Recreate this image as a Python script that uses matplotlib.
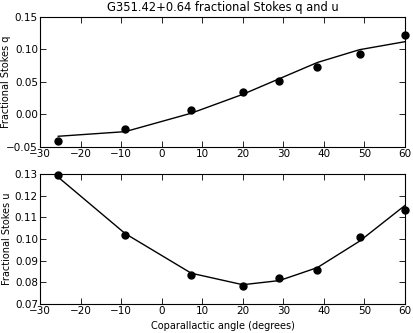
import matplotlib
matplotlib.use("Agg")
import matplotlib.pyplot as plt

angle = [-25.5, -9.0, 7.3, 20.0, 29.0, 38.4, 48.8, 60.0]
q_obs = [-0.041, -0.022, 0.0065, 0.0346, 0.052, 0.0726, 0.0926, 0.123]
q_model = [-0.0335, -0.0264, 0.002, 0.031, 0.055, 0.080, 0.0997, 0.112]
u_obs = [0.1297, 0.1017, 0.0836, 0.0781, 0.0822, 0.0856, 0.1009, 0.1133]
u_model = [0.1285, 0.1025, 0.0842, 0.0789, 0.0808, 0.0868, 0.0990, 0.1155]

plt.rcParams['font.family'] = ['DejaVu Sans']
fig = plt.figure(figsize=(4.13, 3.33), dpi=100)
ax1 = fig.add_axes([0.0969, 0.5586, 0.8837, 0.3904])
ax2 = fig.add_axes([0.0969, 0.0871, 0.8837, 0.3904])

for ax, obs, mod in [(ax1, q_obs, q_model), (ax2, u_obs, u_model)]:
    ax.plot(angle, mod, '-', color='black', lw=1.0)
    ax.plot(angle, obs, 'o', color='black', ms=5, clip_on=False)
    ax.set_xlim(-30, 60)
    ax.tick_params(direction='in', top=True, right=True, labelsize=7.5,
                   length=4, width=0.6, pad=1.5)
    for s in ax.spines.values():
        s.set_linewidth(0.8)

ax1.set_ylim(-0.05, 0.15)
ax1.set_yticks([-0.05, 0.0, 0.05, 0.10, 0.15])
ax1.set_yticklabels(['\u22120.05', '0.00', '0.05', '0.10', '0.15'])
ax2.set_ylim(0.07, 0.13)
ax2.set_yticks([0.07, 0.08, 0.09, 0.10, 0.11, 0.12, 0.13])
ax2.set_yticklabels(['0.07', '0.08', '0.09', '0.10', '0.11', '0.12', '0.13'])

ax1.set_ylabel('Fractional Stokes q', fontsize=7)
ax2.set_ylabel('Fractional Stokes u', fontsize=7)
ax1.yaxis.set_label_coords(-0.079, 0.5)
ax2.yaxis.set_label_coords(-0.077, 0.5)
ax2.set_xlabel('Coparallactic angle (degrees)', fontsize=7)
ax2.xaxis.set_label_coords(0.5, -0.13)
ax1.set_title('G351.42+0.64 fractional Stokes q and u', fontsize=8.3, pad=4)

fig.savefig('out.png', dpi=100)
